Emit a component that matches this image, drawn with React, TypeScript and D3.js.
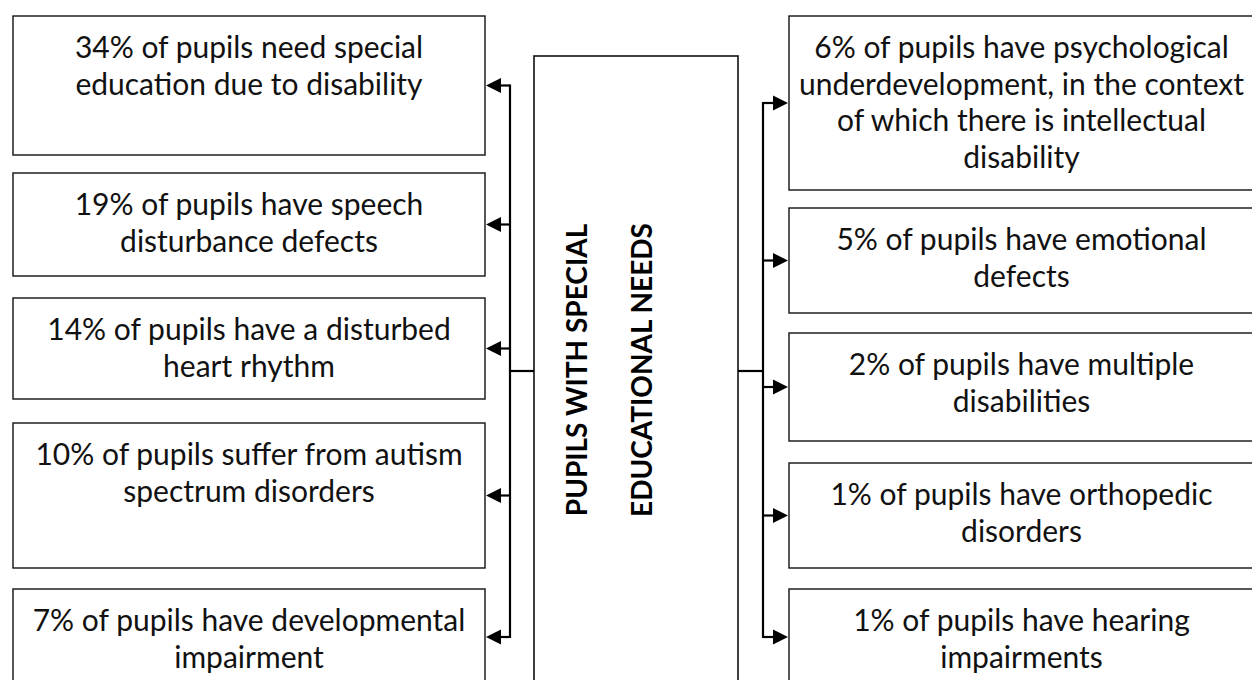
import { useEffect, useRef } from "react";
import * as d3 from "d3";

// box texts, top to bottom
const leftLabels: string[][] = [
  ["34% of pupils need special", "education due to disability"],
  ["19% of pupils have speech", "disturbance defects"],
  ["14% of pupils have a disturbed", "heart rhythm"],
  ["10% of pupils suffer from autism", "spectrum disorders"],
  ["7% of pupils have developmental", "impairment"],
];
const rightLabels: string[][] = [
  ["6% of pupils have psychological", "underdevelopment, in the context", "of which there is intellectual", "disability"],
  ["5% of pupils have emotional", "defects"],
  ["2% of pupils have multiple", "disabilities"],
  ["1% of pupils have orthopedic", "disorders"],
  ["1% of pupils have hearing", "impairments"],
];
const titleLines = ["PUPILS WITH SPECIAL", "EDUCATIONAL NEEDS"];

// layout (page pixels)
const W = 1252;
const H = 680;
const leftRows: [number, number][] = [[16, 155], [173, 276], [298, 399], [423, 568], [589, 685]];
const rightRows: [number, number][] = [[16, 190], [208, 313], [333, 441], [463, 568], [589, 685]];
const leftCol = { x0: 13, x1: 485, bus: 510 };
const rightCol = { x0: 789, x1: 1254, bus: 763 };
const center = { x0: 534, x1: 738, y0: 56, y1: 720, joinY: 371 };

const FONT = "Lato, 'Open Sans', sans-serif";

export default function App() {
  const ref = useRef<SVGSVGElement>(null);

  useEffect(() => {
    const svg = d3.select(ref.current);
    svg.selectAll("*").remove();

    const y = d3.scaleLinear().domain([0, H]).range([0, H]);
    const g = svg.append("g");

    const drawColumn = (labels: string[][], rows: [number, number][], col: { x0: number; x1: number; bus: number }, side: "left" | "right") => {
      const cx = (col.x0 + col.x1) / 2;
      rows.forEach(([t, b], i) => {
        g.append("rect")
          .attr("x", col.x0)
          .attr("y", y(t))
          .attr("width", col.x1 - col.x0)
          .attr("height", y(b) - y(t))
          .attr("fill", "#fff")
          .attr("stroke", "#111")
          .attr("stroke-width", 1.4);

        const txt = g.append("text")
          .attr("text-anchor", "middle")
          .attr("font-family", FONT)
          .attr("font-size", 30)
          .attr("fill", "#111");
        labels[i].forEach((line, j) => {
          txt.append("tspan").attr("x", cx).attr("y", y(t) + 42 + j * 36.5).text(line);
        });

        // arrow from bus into box
        const ay = y((t + b) / 2);
        if (side === "left") {
          const tip = col.x1 + 1;
          g.append("line").attr("x1", col.bus).attr("x2", tip + 12).attr("y1", ay).attr("y2", ay)
            .attr("stroke", "#000").attr("stroke-width", 2.2);
          g.append("path").attr("d", `M${tip},${ay} L${tip + 15},${ay - 7.5} L${tip + 15},${ay + 7.5} Z`).attr("fill", "#000");
        } else {
          const tip = col.x0 - 1;
          g.append("line").attr("x1", col.bus).attr("x2", tip - 12).attr("y1", ay).attr("y2", ay)
            .attr("stroke", "#000").attr("stroke-width", 2.2);
          g.append("path").attr("d", `M${tip},${ay} L${tip - 15},${ay - 7.5} L${tip - 15},${ay + 7.5} Z`).attr("fill", "#000");
        }
      });
      const first = rows[0];
      const last = rows[rows.length - 1];
      g.append("line")
        .attr("x1", col.bus).attr("x2", col.bus)
        .attr("y1", y((first[0] + first[1]) / 2) - 1)
        .attr("y2", y((last[0] + last[1]) / 2) + 1)
        .attr("stroke", "#000").attr("stroke-width", 2.2);
    };

    drawColumn(leftLabels, leftRows, leftCol, "left");
    drawColumn(rightLabels, rightRows, rightCol, "right");

    // center box
    g.append("rect")
      .attr("x", center.x0).attr("y", y(center.y0))
      .attr("width", center.x1 - center.x0).attr("height", y(center.y1) - y(center.y0))
      .attr("fill", "#fff").attr("stroke", "#111").attr("stroke-width", 1.6);

    g.append("line").attr("x1", leftCol.bus).attr("x2", center.x0)
      .attr("y1", y(center.joinY)).attr("y2", y(center.joinY)).attr("stroke", "#000").attr("stroke-width", 2.2);
    g.append("line").attr("x1", center.x1).attr("x2", rightCol.bus)
      .attr("y1", y(center.joinY)).attr("y2", y(center.joinY)).attr("stroke", "#000").attr("stroke-width", 2.2);

    const lineX = [576, 641];
    titleLines.forEach((line, i) => {
      g.append("text")
        .attr("transform", `translate(${lineX[i]}, ${y(370)}) rotate(-90)`)
        .attr("text-anchor", "middle")
        .attr("dominant-baseline", "central")
        .attr("font-family", FONT)
        .attr("font-weight", 700)
        .attr("font-size", 28)
        .attr("fill", "#000")
        .text(line);
    });
  }, []);

  return (
    <svg
      ref={ref}
      width={W}
      height={H}
      style={{ position: "fixed", left: 0, top: 0, background: "#fff" }}
    />
  );
}
